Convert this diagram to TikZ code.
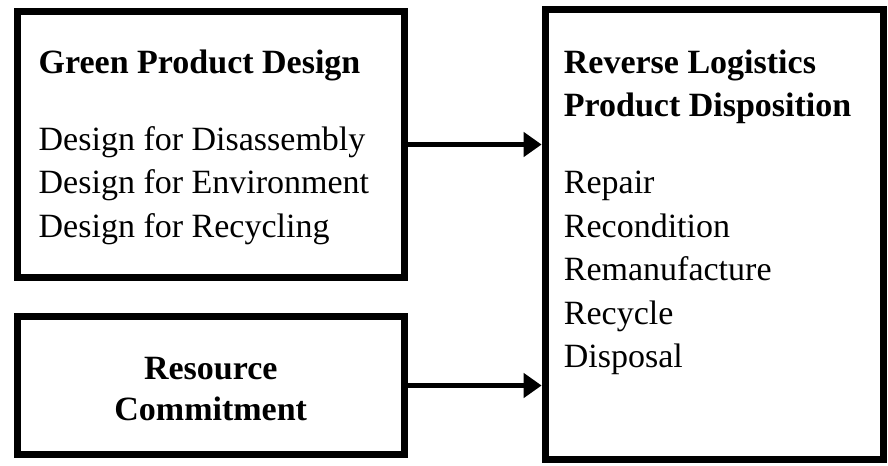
\documentclass[tikz,border=0pt]{standalone}
\usepackage{fontspec}
\setmainfont{Liberation Serif}
\usetikzlibrary{arrows.meta,positioning}

\begin{document}
\begin{tikzpicture}[
    x=0.75pt, y=-0.75pt,
    block/.style={rectangle, draw=black, line width=5.3pt, inner sep=0pt},
    txt/.style={inner sep=0pt, align=left, font=\fontsize{25.5}{32.6}\selectfont},
    flow/.style={-{Triangle[length=13.5pt, width=18pt]}, line width=4.2pt},
]
    \useasboundingbox (0,0) rectangle (888,465);

    % the three boxes
    \node[block, minimum width=290pt, minimum height=200pt] (design) at (210.75,144.5) {};
    \node[block, minimum width=290pt, minimum height=104pt] (resource) at (210.75,385.5) {};
    \node[block, minimum width=254pt, minimum height=338pt] (disposition) at (714.5,234.5) {};

    % box contents
    \node[txt, below right=31.5pt and 18.4pt of design.north west] (designlist)
        {\textbf{Green Product Design}\\[25pt]
         Design for Disassembly\\
         Design for Environment\\
         Design for Recycling};
    \node[txt, align=center, font=\fontsize{25.5}{30.8}\selectfont\bfseries, yshift=-2.5pt]
        (resourcetxt) at (resource) {Resource\\Commitment};
    \node[txt, below right=33pt and 16.5pt of disposition.north west] (dispolist)
        {\textbf{Reverse Logistics}\\
         \textbf{Product Disposition}\\[25pt]
         Repair\\
         Recondition\\
         Remanufacture\\
         Recycle\\
         Disposal};

    \draw[flow] (design.east) -- (design.east -| disposition.west);
    \draw[flow] (resource.east) -- (resource.east -| disposition.west);
\end{tikzpicture}
\end{document}
